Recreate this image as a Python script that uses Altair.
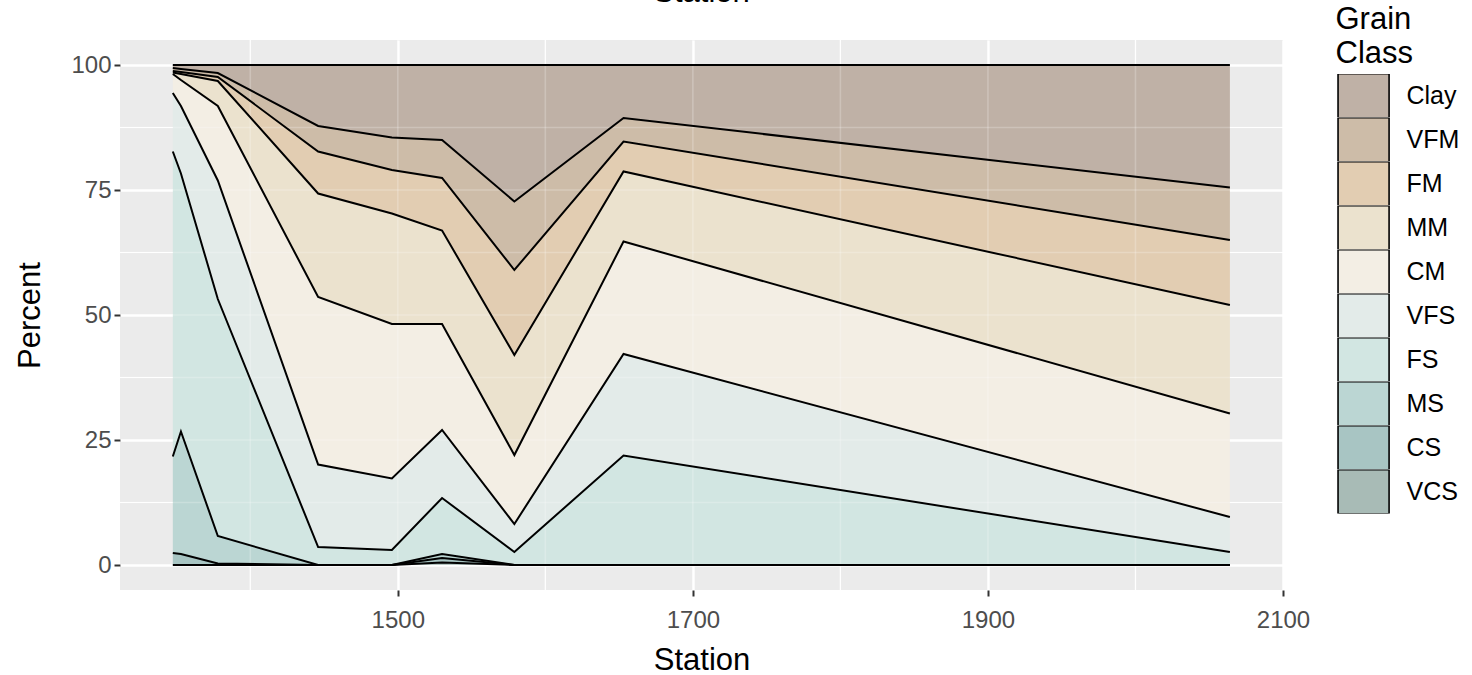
import altair as alt
import pandas as pd

FONT = "Liberation Sans"

stations = [1347.5, 1353, 1378, 1446, 1496, 1530, 1579, 1653, 2064]
# legend order (top -> bottom)
classes = ["Clay", "VFM", "FM", "MM", "CM", "VFS", "FS", "MS", "CS", "VCS"]
colors = ["#bfb1a6", "#cdbca8", "#e2cdb2", "#ebe2ce", "#f3eee4",
          "#e3ebe9", "#d2e6e2", "#bbd6d3", "#a8c5c3", "#a8bbb6"]

VCS = [0.0, 0.0, 0.0, 0.0, 0.0, 0.5, 0.0, 0.0, 0.0]
CS = [2.4, 2.2, 0.3, 0.0, 0.0, 0.9, 0.0, 0.0, 0.0]
MS = [19.3, 24.5, 5.5, 0.0, 0.0, 0.8, 0.0, 0.0, 0.0]
FS = [61.0, 51.6, 47.4, 3.6, 3.0, 11.2, 2.6, 21.9, 2.6]
VFS = [11.7, 13.5, 23.7, 16.5, 14.3, 13.6, 5.6, 20.3, 7.0]
CM = [3.8, 5.2, 14.9, 33.5, 30.9, 21.2, 13.8, 22.5, 20.7]
MM = [0.3, 1.2, 5.0, 20.7, 22.1, 18.7, 20.0, 14.0, 21.7]
FM = [0.3, 0.4, 0.8, 8.4, 8.7, 10.5, 17.0, 6.0, 13.0]
VFM = [0.6, 0.6, 0.8, 5.1, 6.5, 7.6, 13.7, 4.7, 10.5]
Clay = [0.6, 0.8, 1.6, 12.2, 14.5, 15.0, 27.3, 10.6, 24.5]

x_major = [1500, 1700, 1900, 2100]
x_minor = [1400, 1600, 1800, 2000]
y_major = [0, 25, 50, 75, 100]
y_minor = [12.5, 37.5, 62.5, 87.5]
top_title = ["Station"]

series = {"Clay": Clay, "VFM": VFM, "FM": FM, "MM": MM, "CM": CM,
          "VFS": VFS, "FS": FS, "MS": MS, "CS": CS, "VCS": VCS}
rows = []
for g in classes:
    for s, v in zip(stations, series[g]):
        rows.append({"station": s, "grain": g, "value": v,
                     "ord": len(classes) - 1 - classes.index(g)})
df = pd.DataFrame(rows)

xdom = [1311.7, 2100]
ydom = [-5, 105]
xscale = alt.Scale(domain=xdom, nice=False, zero=False)
yscale = alt.Scale(domain=ydom, nice=False, zero=False)

xaxis = alt.Axis(values=x_major, title="Station", format="d", grid=True,
                 gridColor="white", gridWidth=2.4, domain=False,
                 tickColor="#333333", tickWidth=2, tickSize=6,
                 labelFontSize=24, labelColor="#4d4d4d", labelPadding=12,
                 labelFlush=False, labelOverlap=False,
                 titleFontSize=31, titleFontWeight="normal", titleColor="black",
                 titlePadding=13)
yaxis = alt.Axis(values=y_major, title="Percent", format="d", grid=True,
                 gridColor="white", gridWidth=2.4, domain=False,
                 tickColor="#333333", tickWidth=2, tickSize=6,
                 labelFontSize=24, labelColor="#4d4d4d", labelPadding=3,
                 labelFlush=False, labelOverlap=False,
                 titleFontSize=31, titleFontWeight="normal", titleColor="black",
                 titlePadding=24)

minor_x = alt.Chart(pd.DataFrame({"v": x_minor})).mark_rule(
    color="white", strokeWidth=1.2).encode(
    x=alt.X("v:Q", scale=xscale, axis=xaxis))
minor_y = alt.Chart(pd.DataFrame({"v": y_minor})).mark_rule(
    color="white", strokeWidth=1.2).encode(
    y=alt.Y("v:Q", scale=yscale, axis=yaxis))

base = alt.Chart(df).transform_stack(
    stack="value", groupby=["station"], as_=["y0", "y1"],
    sort=[alt.SortField("ord", order="ascending")])

areas = base.mark_area(opacity=1).encode(
    x=alt.X("station:Q", scale=xscale, axis=xaxis),
    y=alt.Y("y1:Q", scale=yscale, axis=yaxis),
    y2="y0:Q",
    color=alt.Color("grain:N", scale=alt.Scale(domain=classes, range=colors),
                    legend=alt.Legend(
                        title=["Grain", "Class"], orient="none",
                        legendX=1215.5, legendY=-35,
                        symbolType="M-0.93,-1H1.39V1H-0.93Z", symbolSize=1936,
                        symbolStrokeColor="black", symbolStrokeWidth=1.6,
                        symbolOpacity=1, rowPadding=0, clipHeight=43.6,
                        padding=0,
                        labelFontSize=25, labelColor="black", labelOffset=25,
                        titleFontSize=31, titleFontWeight="normal",
                        titleColor="black", titleLineHeight=34,
                        titlePadding=4, titleBaseline="top")),
    detail="grain:N",
)

ov_x = alt.Chart(pd.DataFrame({"v": x_major + x_minor})).mark_rule(
    color="white", strokeWidth=1.6, opacity=0.22).encode(
    x=alt.X("v:Q", scale=xscale, axis=xaxis))
ov_y = alt.Chart(pd.DataFrame({"v": y_major + y_minor})).mark_rule(
    color="white", strokeWidth=1.6, opacity=0.22).encode(
    y=alt.Y("v:Q", scale=yscale, axis=yaxis))

lines = base.mark_line(color="black", strokeWidth=2).encode(
    x=alt.X("station:Q", scale=xscale, axis=xaxis),
    y=alt.Y("y1:Q", scale=yscale, axis=yaxis),
    detail="grain:N",
)

# top title, mostly cut off by the page edge as in the reference
top = alt.Chart(pd.DataFrame({"t": top_title})).mark_text(
    fontSize=31, font=FONT, baseline="alphabetic", align="center",
    color="black").encode(
    text="t:N", x=alt.value(581.5), y=alt.value(-38))

chart = alt.layer(minor_x, minor_y, areas, ov_x, ov_y, lines, top).properties(
    width=1163, height=550,
    autosize=alt.AutoSizeParams(type="none"),
    padding={"left": 120, "top": 40, "right": 189, "bottom": 85},
    background="white",
).configure(font=FONT).configure_view(fill="#ebebeb", stroke=None)

chart.save("out.html", embed_options={"renderer": "svg", "actions": False})
